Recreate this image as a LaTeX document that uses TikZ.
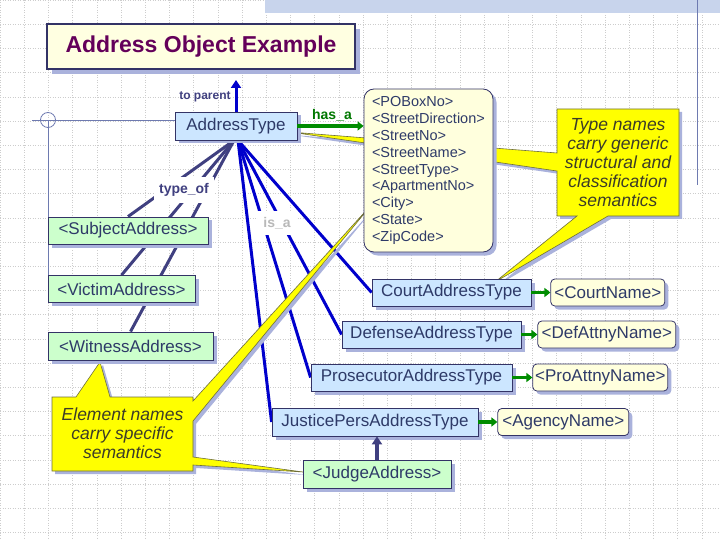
\documentclass[tikz,border=0pt]{standalone}
\usepackage{fontspec}
\setmainfont{Liberation Sans}
\usepackage{xcolor}
\usepackage{tikz}
\usetikzlibrary{arrows.meta}
\usetikzlibrary{positioning}
\usetikzlibrary{shadows}
\usetikzlibrary{backgrounds}

\definecolor{boxline}{RGB}{51,51,102}
\definecolor{navytext}{RGB}{46,58,104}
\definecolor{typeblue}{RGB}{204,230,255}
\definecolor{elemgreen}{RGB}{204,255,204}
\definecolor{namecream}{RGB}{255,255,221}
\definecolor{titlecream}{RGB}{255,255,225}
\definecolor{titlepurple}{RGB}{100,0,90}
\definecolor{noteyellow}{RGB}{255,255,0}
\definecolor{noteline}{RGB}{110,110,60}
\definecolor{notefont}{RGB}{60,60,40}
\definecolor{shadowblue}{RGB}{170,178,220}
\definecolor{isablue}{RGB}{0,0,204}
\definecolor{typeofslate}{RGB}{64,64,128}
\definecolor{hasgreen}{RGB}{0,140,0}
\definecolor{guideblue}{RGB}{110,122,176}
\definecolor{gridgray}{RGB}{205,205,205}
\definecolor{bandblue}{RGB}{200,212,236}

\tikzset{
  boxshadow/.style={drop shadow={shadow xshift=3.5pt, shadow yshift=-3.5pt, fill=shadowblue, opacity=1}},
  basebox/.style={draw=boxline, line width=0.8pt, text=navytext, inner sep=0pt, minimum height=27pt, font=\fontsize{17}{20}\selectfont, boxshadow},
  typebox/.style={basebox, fill=typeblue},
  elembox/.style={basebox, fill=elemgreen},
  namebox/.style={basebox, fill=namecream, rounded corners=4pt},
  notetext/.style={text=notefont, align=center, font=\fontsize{17.5}{19}\selectfont\itshape},
  reltext/.style={font=\fontsize{14}{16}\selectfont\bfseries, inner xsep=5pt, inner ysep=6pt},
  isaline/.style={draw=isablue, line width=3pt},
  typeofline/.style={draw=typeofslate, line width=3pt},
  hasarrow/.style={draw=hasgreen, line width=3.6pt, -{Triangle[length=6pt, width=9pt]}},
  uparrow/.style={-{Triangle[length=8pt, width=10pt]}},
  notepath/.style={draw=noteline, line width=0.6pt, fill=noteyellow, drop shadow={shadow xshift=3pt, shadow yshift=-3pt, fill=shadowblue, opacity=1}},
  gridline/.style={draw=gridgray, dotted, line width=0.5pt},
  guideline/.style={draw=guideblue, line width=0.8pt}
}

\begin{document}
\begin{tikzpicture}[x=1pt, y=-1pt]
  \useasboundingbox (0,0) rectangle (720,540);

  \node (title) [draw=boxline, line width=1.4pt, fill=titlecream, text=titlepurple, minimum width=308pt, minimum height=45pt, inner sep=0pt, font=\fontsize{23}{26}\selectfont\bfseries, drop shadow={shadow xshift=5pt, shadow yshift=-5pt, fill=shadowblue, opacity=1}] at (201,46.5) {Address Object Example};

  \node (addr) [typebox, minimum width=122pt, minimum height=28pt] at (236,126) {AddressType};
  \node (pobox) [basebox, fill=namecream, rounded corners=10pt, minimum height=163pt, text width=113pt, align=left, inner xsep=8pt, font=\fontsize{14.5}{16.9}\selectfont] at (428.5,170.5) {<POBoxNo>\\<StreetDirection>\\<StreetNo>\\<StreetName>\\<StreetType>\\<ApartmentNo>\\<City>\\<State>\\<ZipCode>};

  \node (subj) [elembox, minimum width=160pt] at (128,230.5) {<SubjectAddress>};
  \node (victim) [elembox, minimum width=147pt] at (121.5,289) {<VictimAddress>};
  \node (witness) [elembox, minimum width=165pt, minimum height=28pt] at (130.5,346) {<WitnessAddress>};
  \node (judge) [elembox, minimum width=148pt, minimum height=28pt] at (377,474) {<JudgeAddress>};

  \node (court) [typebox, minimum width=159pt] at (451.5,292.5) {CourtAddressType};
  \node (defense) [typebox, minimum width=179pt] at (431.5,334.5) {DefenseAddressType};
  \node (prosec) [typebox, minimum width=201pt] at (411.5,377.5) {ProsecutorAddressType};
  \node (justice) [typebox, minimum width=206pt, minimum height=28pt] at (375,422) {JusticePersAddressType};

  \node (courtname) [namebox, minimum width=114pt, right=19pt of court] {<CourtName>};
  \node (defname) [namebox, minimum width=138pt, right=16pt of defense] {<DefAttnyName>};
  \node (proname) [namebox, minimum width=135pt, right=20pt of prosec] {<ProAttnyName>};
  \node (agency) [namebox, minimum width=131pt, right=19pt of justice] {<AgencyName>};

  \node (typenote) [notetext] at (618,163) {Type names\\carry generic\\structural and\\classification\\semantics};
  \node (elemnote) [notetext] at (122.5,433) {Element names\\carry specific\\semantics};

  \node (toparent) [reltext, text=typeofslate, font=\fontsize{12}{14}\selectfont\bfseries] at (205,97) {to parent};
  \node (hasa) [reltext, text=hasgreen!85!black] at (332,115) {has\_a};
  \node (typeof) [reltext, text=typeofslate, fill=white] at (184,190) {type\_of};
  \node (isa) [reltext, text=gray!55, fill=white] at (277,223) {is\_a};

  \coordinate (parent) at (236,80);
  \draw[uparrow, draw=isablue, line width=3pt] (addr.north) -- (parent);
  \draw[uparrow, draw=typeofslate, line width=3.4pt] (judge.north) -- (judge.north |- justice.south);
  \draw[hasarrow] (addr.east) -- (addr.east -| pobox.west);
  \draw[hasarrow] (court) -- (courtname);
  \draw[hasarrow] (defense) -- (defname);
  \draw[hasarrow] (prosec) -- (proname);
  \draw[hasarrow] (justice) -- (agency);

  \begin{scope}[on background layer]
    \foreach \gx in {0,24.2,...,720} \draw[gridline] (\gx,0) -- (\gx,540);
    \foreach \gy in {0,24.2,...,540} \draw[gridline] (0,\gy) -- (720,\gy);
    \fill[bandblue] (265,0) rectangle (720,13);
    \draw[guideline] (697,0) -- (697,185);
    \coordinate (guide) at (48,120);
    \draw[guideline] (32,120) -- (guide -| addr.west);
    \draw[guideline] (guide) circle (7.5);
    \draw[guideline] (guide) -- (48,293);
    \foreach \n in {subj,victim,witness}
      \draw[typeofline] ([xshift=-2pt]addr.south) -- (\n.north);
    \foreach \n in {court,defense,prosec,justice}
      \draw[isaline] ([xshift=2pt]addr.south) -- (\n.west);
    \path[notepath] (557,109) -- (679,109) -- (679,216) -- (608,216) -- (495,282) -- (577,216) -- (557,216) -- (557,171) -- (290,132) -- (557,153) -- cycle;
    \path[notepath] (52,397) -- (76,397) -- (100,362) -- (110,397) -- (193,397) -- (193,401) -- (373,203) -- (193,421) -- (193,457) -- (303,472) -- (193,465) -- (193,471) -- (52,471) -- cycle;
  \end{scope}
\end{tikzpicture}
\end{document}
